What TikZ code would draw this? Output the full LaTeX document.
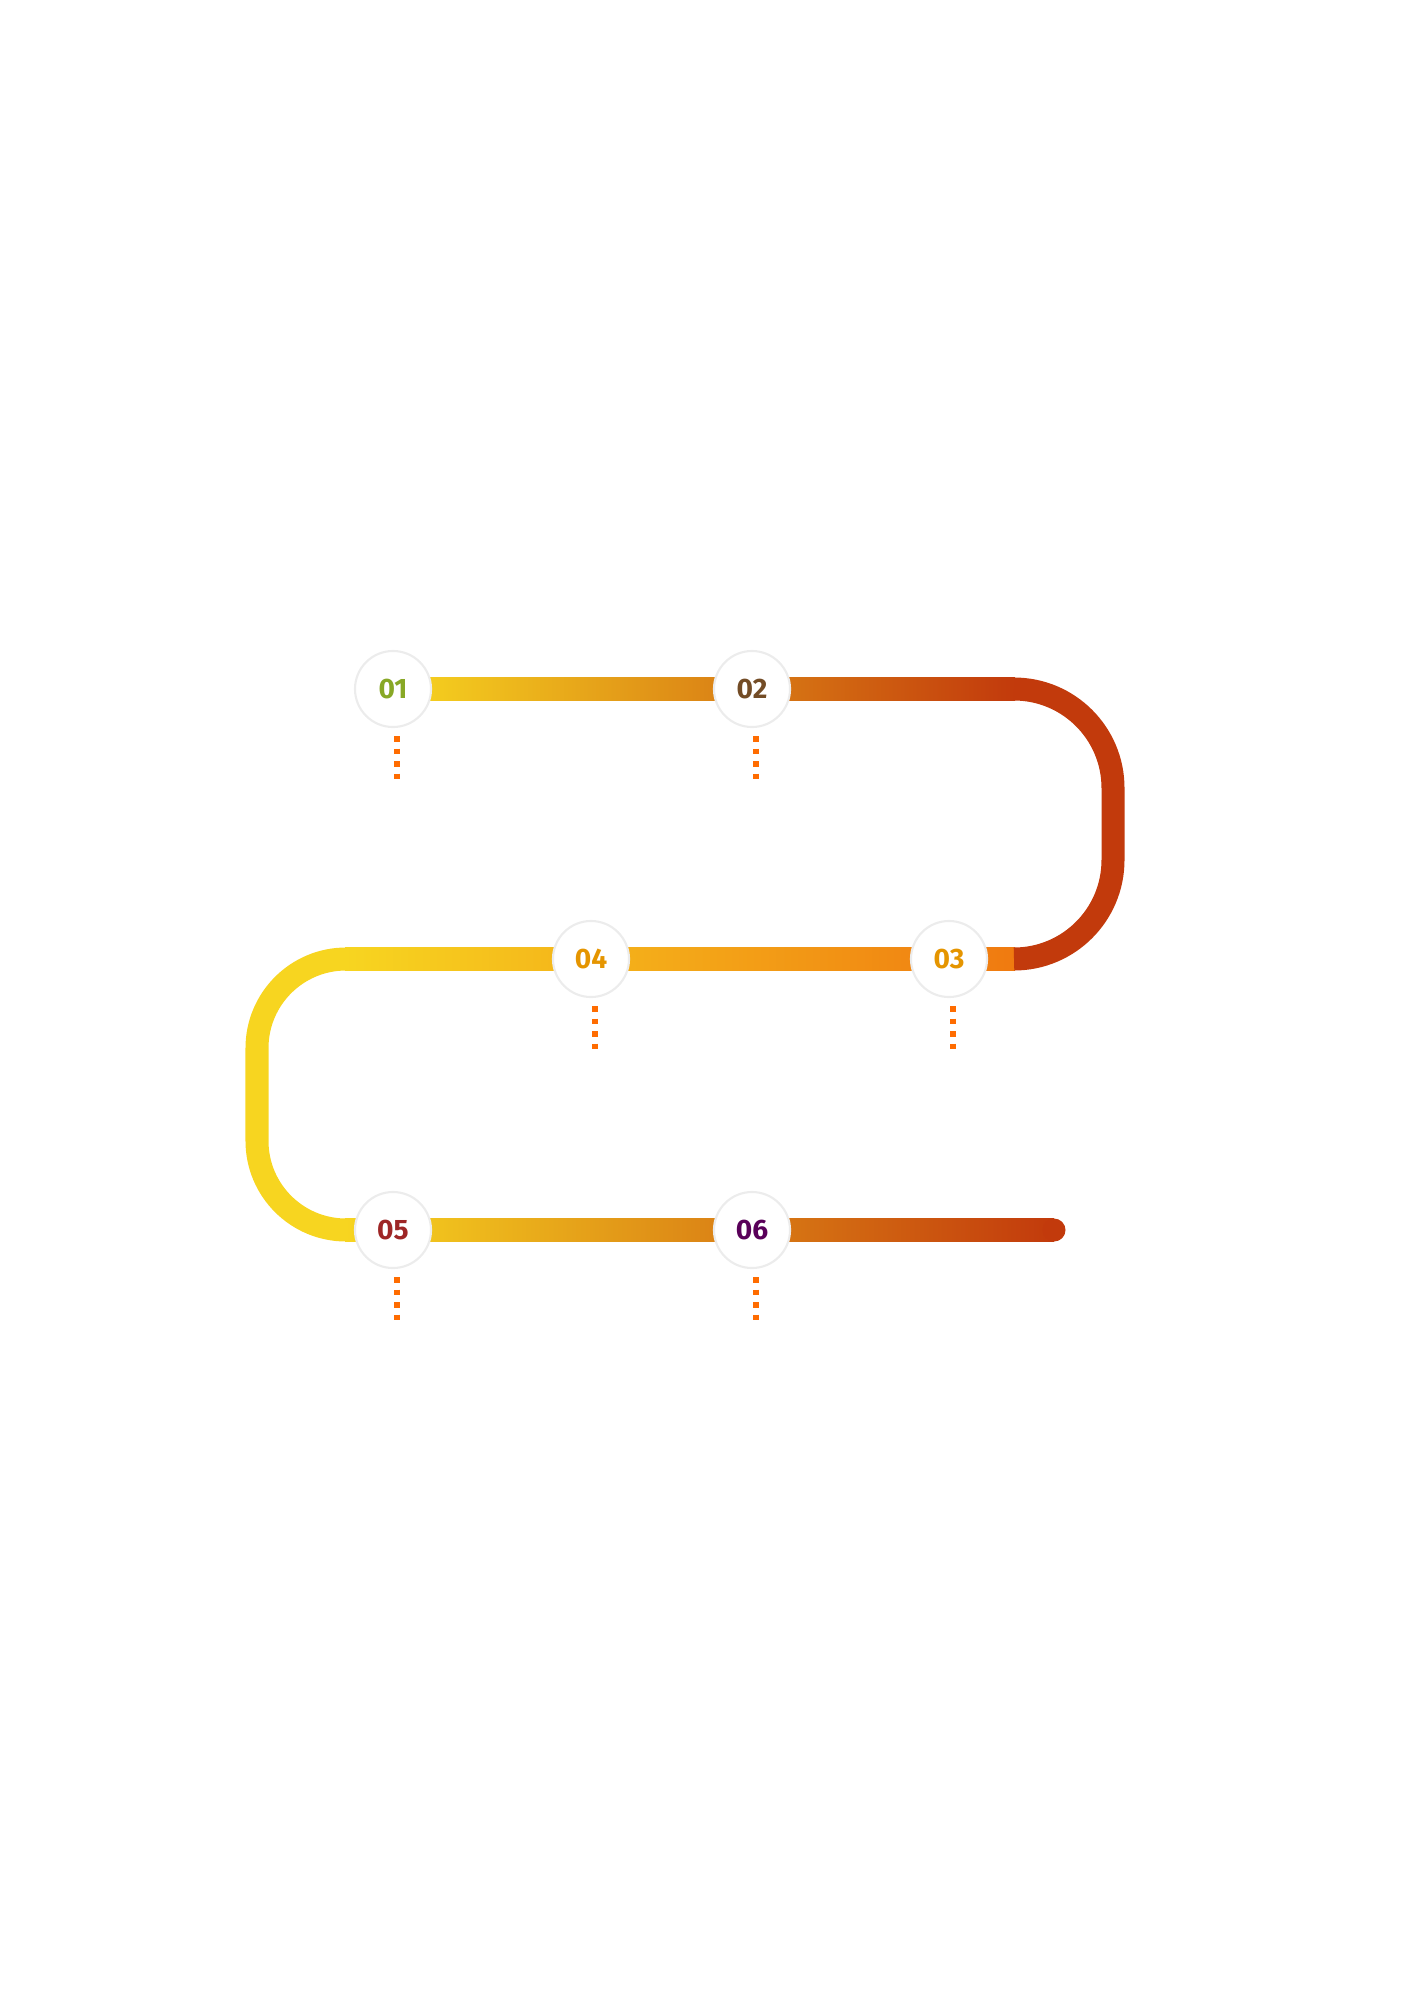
\documentclass[tikz,border=0pt]{standalone}
\usepackage{fontspec}
\setsansfont{Fira Sans}
\definecolor{trackY}{HTML}{F7D520}
\definecolor{trackO}{HTML}{F07A10}
\definecolor{trackR}{HTML}{C23A0C}
\begin{document}
\begin{tikzpicture}[
        x={(0.01cm,0cm)}, y={(0cm,-0.01cm)},
        % track colours
        stepnode/.style={circle, fill=white, draw=gray!15, line width=0.6pt, minimum size=0.76cm, inner sep=0pt, font=\sffamily\bfseries\fontsize{8}{8}\selectfont},
        tick/.style={draw=orange!85!red, line width=0.055cm, dash pattern=on 0.055cm off 0.07cm},
        turn/.style={line width=0.23cm}
    ]
    \useasboundingbox (0,0) rectangle (1414,2000);

    % --- straight parts ---
    \def\hw{11.5}
    \shade[left color=trackY, right color=trackR] (393,689-\hw) rectangle (1015,689+\hw);
    \shade[left color=trackY, right color=trackO] (345,959-\hw) rectangle (1015,959+\hw);
    \shade[left color=trackY, right color=trackR] (345,1230-\hw) rectangle (1054,1230+\hw);
    \fill[trackR] (1054,1230) circle (\hw);

    % --- bends ---
    \draw[turn, trackR] (1014,689) arc[start angle=-90, end angle=0, radius=99] -- (1113,860) arc[start angle=0, end angle=90, radius=99];
    \draw[turn, trackY] (346,959) arc[start angle=-90, end angle=-180, radius=89] -- (257,1141) arc[start angle=180, end angle=90, radius=89];

    % --- step nodes ---
    \node[stepnode, text=green!45!orange!70!gray] (s1) at (393,689) {01};
    \node[stepnode, text=brown!60!black] (s2) at (752,689) {02};
    \node[stepnode, text=orange!70!yellow!90!black] (s3) at (949,959) {03};
    \node[stepnode, text=orange!70!yellow!90!black] (s4) at (591,959) {04};
    \node[stepnode, text=red!55!black!85] (s5) at (393,1230) {05};
    \node[stepnode, text=violet!70!black] (s6) at (752,1230) {06};

    % --- dotted ticks ---
    \foreach \s in {s1,s2,s3,s4,s5,s6}
        \draw[tick] ([xshift=0.04cm,yshift=-0.08cm]\s.south) -- ++(0,45);
\end{tikzpicture}
\end{document}
